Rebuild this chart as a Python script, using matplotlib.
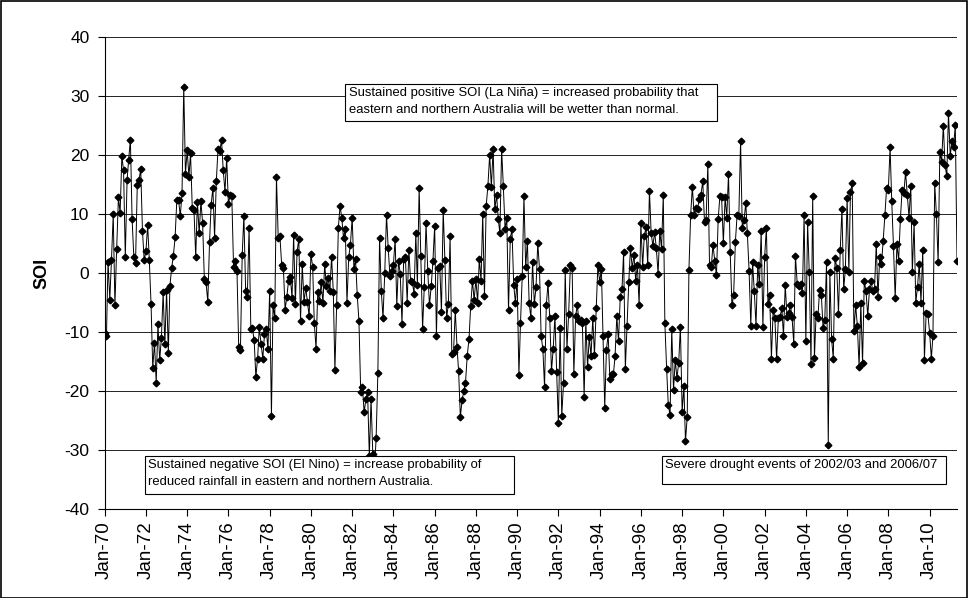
import numpy as np
import pandas as pd
import matplotlib
matplotlib.use('Agg')
import matplotlib.pyplot as plt
import matplotlib.dates as mdates
from matplotlib.patches import Rectangle

# monthly SOI, Jan 1970 - May 2011
soi_1970s = [
    -10.1, -10.7, 1.9, -4.5, 2.2, 10.0, -5.5, 4.1, 12.8, 10.2, 19.8, 17.4,
    2.7, 15.7, 19.2, 22.6, 9.2, 2.7, 1.7, 14.9, 15.8, 17.6, 7.1, 2.2,
    3.7, 8.1, 2.2, -5.3, -16.1, -11.8, -18.6, -8.7, -14.8, -11.0, -3.3, -12.0,
    -2.9, -13.5, -2.2, 0.9, 2.9, 6.1, 12.3, 12.3, 9.7, 13.5, 31.6, 16.8,
    20.8, 16.3, 20.3, 11.0, 10.7, 2.7, 12.1, 6.7, 12.2, 8.5, -1.1, -1.6,
    -4.9, 5.3, 11.6, 14.4, 6.0, 15.6, 21.0, 20.7, 22.5, 17.5, 13.8, 19.5,
    11.7, 13.2, 13.0, 1.1, 2.1, 0.3, -12.5, -13.0, 3.0, 9.7, -3.0, -4.0,
    7.7, -9.5, -9.4, -11.4, -17.6, -14.5, -9.2, -12.0, -14.5, -10.4, -9.5, -12.9,
    -3.0, -24.3, -5.5, -7.6, 16.3, 6.0, 6.3, 1.4, 0.8, -6.2, -4.0, -1.3,
    -0.7, -4.2, 6.5, -5.2, 3.6, 5.8, -8.1, 1.5, -4.9, -2.5, -4.9, -7.3,
]
soi_1980s = [
    3.2, 1.1, -8.5, -12.8, -3.3, -4.7, -1.6, -5.1, 1.5, -2.2, -0.8, -3.0,
    2.7, -3.2, -16.5, -5.4, 7.7, 11.4, 9.3, 5.9, 7.5, -5.0, 2.7, 4.8,
    9.4, 0.6, 2.4, -3.8, -8.2, -20.1, -19.3, -23.6, -21.4, -20.2, -31.1, -21.3,
    -30.6, -33.3, -28.0, -17.0, 6.0, -3.1, -7.6, 0.0, 9.9, 4.2, -0.5, 0.3,
    1.3, 5.8, -5.6, 2.0, -0.1, -8.6, 2.4, 2.7, -5.0, 3.9, -1.4, -1.5,
    -3.5, 6.7, -2.0, 14.4, 2.9, -9.5, -2.3, 8.5, 0.3, -5.5, -2.2, 2.0,
    8.0, -10.7, 0.8, 1.2, -6.6, 10.7, 2.2, -7.6, -5.2, 6.2, -13.8, -13.4,
    -6.3, -12.6, -16.6, -24.4, -21.6, -20.0, -18.6, -14.0, -11.2, -5.6, -1.3, -4.6,
    -1.1, -5.0, 2.4, -1.3, 10.0, -3.9, 11.3, 14.8, 20.0, 14.6, 21.0, 10.8,
    13.2, 9.1, 6.7, 21.0, 14.7, 7.4, 9.3, -6.3, 5.8, 7.4, -2.0, -5.0,
]
soi_1990s = [
    -1.1, -17.3, -8.5, -0.5, 13.1, 1.0, 5.4, -5.0, -7.6, 1.8, -5.3, -2.4,
    5.1, 0.6, -10.6, -12.9, -19.3, -5.5, -1.7, -7.6, -16.6, -12.9, -7.3, -16.7,
    -25.4, -9.3, -24.2, -18.7, 0.5, -12.8, -6.9, 1.4, 0.8, -17.2, -7.3, -5.5,
    -8.2, -7.9, -8.5, -21.0, -8.2, -16.0, -10.8, -14.1, -7.6, -13.9, -6.0, 1.4,
    -1.5, 0.6, -10.6, -22.8, -13.0, -10.4, -18.0, -17.2, -17.2, -14.1, -7.3, -11.6,
    -4.0, -2.7, 3.5, -16.2, -9.0, -1.5, 4.2, 0.8, 3.1, -1.3, 1.3, -5.5,
    8.4, 1.1, 6.2, 7.8, 1.3, 13.9, 6.8, 4.6, 6.9, 4.2, -0.1, 7.2,
    4.1, 13.3, -8.5, -16.2, -22.4, -24.1, -9.5, -19.8, -14.8, -17.8, -15.2, -9.1,
    -23.5, -19.2, -28.5, -24.4, 0.5, 9.9, 14.6, 9.8, 11.1, 10.9, 12.5, 13.3,
    15.6, 8.6, 8.9, 18.5, 1.3, 1.0, 4.8, 2.1, -0.4, 9.1, 13.1, 12.8,
]
soi_2000s = [
    5.1, 12.9, 9.4, 16.8, 3.6, -5.5, -3.7, 5.3, 9.9, 9.7, 22.4, 7.7,
    8.9, 11.9, 6.7, 0.3, -9.0, 1.8, -3.0, -8.9, 1.4, -1.9, 7.2, -9.1,
    2.7, 7.7, -5.2, -3.8, -14.5, -6.3, -7.6, -14.6, -7.6, -7.4, -6.0, -10.6,
    -2.0, -7.4, -6.8, -5.5, -7.4, -12.0, 2.9, -1.8, -2.2, -1.9, -3.4, 9.8,
    -11.6, 8.6, 0.2, -15.4, 13.1, -14.4, -6.9, -7.6, -2.8, -3.7, -9.3, -8.0,
    1.8, -29.1, 0.2, -11.2, -14.5, 2.6, 0.9, -6.9, 3.9, 10.9, -2.7, 0.6,
    12.7, 0.1, 13.8, 15.2, -9.8, -5.5, -8.9, -15.9, -5.1, -15.3, -1.4, -3.0,
    -7.3, -2.7, -1.4, -3.0, -2.7, 5.0, -4.1, 2.7, 1.5, 5.4, 9.8, 14.4,
    14.1, 21.3, 12.2, 4.5, -4.3, 5.0, 2.1, 9.1, 14.1, 13.5, 17.1, 13.3,
    9.4, 14.8, 0.2, 8.6, -5.0, -2.3, 1.6, -5.0, 3.9, -14.7, -6.7, -7.0,
]
soi_2010s = [
    -10.1, -14.5, -10.6, 15.2, 10.0, 1.8, 20.5, 18.8, 25.0, 18.3, 16.4, 27.1,
    19.9, 22.3, 21.4, 25.1, 2.1,
]

soi = soi_1970s + soi_1980s + soi_1990s + soi_2000s + soi_2010s
months = pd.date_range('1970-01-01', periods=len(soi), freq='MS')

yticks = list(range(-40, 41, 10))
tick_years = list(range(1970, 2011, 2))

note_nina = ('Sustained positive SOI (La Niña) = increased probability that\n'
             'eastern and northern Australia will be wetter than normal.')
note_nino = ('Sustained negative SOI (El Nino) = increase probability of\n'
             'reduced rainfall in eastern and northern Australia.')
note_drought = 'Severe drought events of 2002/03 and 2006/07'

plt.rcParams['font.family'] = ['Liberation Sans', 'DejaVu Sans']
plt.rcParams['axes.unicode_minus'] = False

W, H = 968, 598
fig = plt.figure(figsize=(W / 100, H / 100), dpi=100)
ax = fig.add_axes([104.7 / W, 1 - 509 / H, (957 - 104.7) / W, (509 - 37) / H])

ax.plot(months, soi, color='black', lw=0.7, marker='D', ms=3.4,
        mfc='black', mec='black', zorder=3)

ax.set_ylim(-40, 40)
ax.set_yticks(yticks)
ax.set_xlim(months[0], months[-1])
ax.set_xticks([pd.Timestamp(f'{y}-01-01') for y in tick_years])
ax.xaxis.set_major_formatter(mdates.DateFormatter('%b-%y'))
ax.tick_params(axis='x', labelrotation=90, labelsize=13.5, length=5, pad=4, direction='out')
ax.tick_params(axis='y', labelsize=12.5, length=5, pad=6, direction='out')
ax.yaxis.grid(True, color='black', lw=0.6)
ax.set_axisbelow(True)
for s in ['top', 'right']:
    ax.spines[s].set_visible(False)
ax.set_ylabel('SOI', fontsize=13, fontweight='bold', labelpad=10)


def note_box(x0, y0, x1, y1, text, tx, ty):
    fig.patches.append(Rectangle((x0 / W, 1 - y1 / H), (x1 - x0) / W, (y1 - y0) / H,
                                 transform=fig.transFigure, fc='white', ec='black',
                                 lw=0.8, zorder=5))
    fig.text(tx / W, 1 - ty / H, text, fontsize=9.4, va='top', ha='left',
             linespacing=1.6, zorder=6)


note_box(345, 84, 717, 121, note_nina, 349, 87)
note_box(145, 456, 514, 494, note_nino, 148, 459)
note_box(662, 456, 946, 484, note_drought, 665, 459)

# outer chart border
fig.patches.append(Rectangle((0.5 / W, 0.5 / H), (W - 1.5) / W, (H - 1.5) / H,
                             transform=fig.transFigure, fill=False, ec='black', lw=1.2))

fig.savefig('out.png', dpi=100)
